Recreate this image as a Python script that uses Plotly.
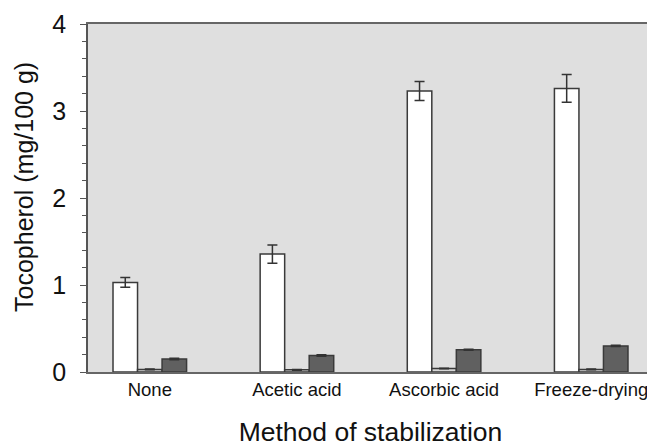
import plotly.graph_objects as go

categories = ["None", "Acetic acid", "Ascorbic acid", "Freeze-drying"]
series_names = ["α-Tocopherol", "γ-Tocopherol", "δ-Tocopherol"]
white_vals = [1.03, 1.355, 3.23, 3.26]
white_err = [0.055, 0.105, 0.11, 0.16]
light_vals = [0.03, 0.025, 0.04, 0.03]
light_err = [0.004, 0.004, 0.004, 0.004]
dark_vals = [0.15, 0.19, 0.255, 0.30]
dark_err = [0.008, 0.008, 0.006, 0.008]
y_ticks = [0, 1, 2, 3, 4]

fills = ["#ffffff", "#d6d6d6", "#606060"]
vals = [white_vals, light_vals, dark_vals]
errs = [white_err, light_err, dark_err]

fig = go.Figure()
for name, v, e, c in zip(series_names, vals, errs, fills):
    fig.add_trace(go.Bar(
        x=categories, y=v, name=name,
        marker=dict(color=c, line=dict(color="#3a3a3a", width=1.5)),
        error_y=dict(type="data", array=e, visible=True, color="#333333",
                     thickness=1.5, width=5),
        showlegend=False,
    ))

font = "Liberation Sans, Arial, sans-serif"
fig.update_layout(
    width=647, height=439,
    margin=dict(l=80, r=2, t=16, b=75),
    paper_bgcolor="white",
    plot_bgcolor="#dfdfdf",
    barmode="group", bargap=0.5, bargroupgap=0,
    font=dict(family=font, color="#111111"),
    xaxis=dict(
        range=[-0.42, 3.42], automargin=False,
        showline=True, linecolor="#666666", linewidth=1.5, mirror=True,
        ticks="", tickfont=dict(size=18.5),
        title=dict(text="Method of stabilization", font=dict(size=26.5), standoff=30),
    ),
    yaxis=dict(
        range=[0, 4], tickvals=y_ticks, showgrid=False, zeroline=False,
        automargin=False,
        showline=True, linecolor="#555555", linewidth=1.5, mirror=True,
        ticks="outside", ticklen=6, tickwidth=1.2, tickcolor="#555555",
        minor=dict(dtick=0.2, ticks="outside", ticklen=4, tickwidth=1.2,
                   tickcolor="#555555", showgrid=False),
        tickfont=dict(size=25), ticklabelstandoff=9,
    ),
    annotations=[dict(
        text="Tocopherol (mg/100 g)", textangle=-90,
        xref="paper", yref="paper", x=-0.1133, y=0.5316,
        xanchor="center", yanchor="middle", showarrow=False,
        font=dict(size=25, family=font, color="#111111"),
    )],
)
fig.write_html("out.html")
